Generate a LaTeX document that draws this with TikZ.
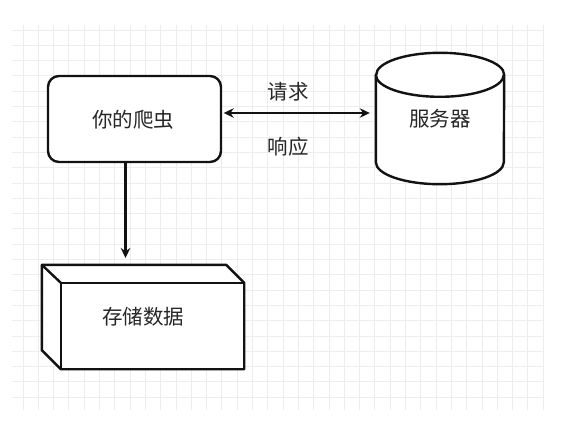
\documentclass[tikz,border=0pt]{standalone}
\usepackage{fontspec}
\newfontfamily\cjk{Noto Sans CJK SC}
\usetikzlibrary{arrows.meta,calc}
\definecolor{gridc}{HTML}{EDEDED}
\definecolor{inkc}{HTML}{121212}
\definecolor{txtc}{HTML}{262626}
\begin{document}
\begin{tikzpicture}[x=1pt,y=-1pt,
  >={Stealth[length=10pt,width=9.5pt]},
  shapeline/.style={draw=inkc,line width=2.4pt,line join=round},
  lbl/.style={text=txtc,font=\cjk\fontsize{20.5}{24}\selectfont,inner sep=0pt},
  conn/.style={draw=inkc,line width=2.1pt}]
\useasboundingbox (0,0) rectangle (577,427);
\fill[white] (0,0) rectangle (577,427);
% grid
\foreach \k in {0,...,34} \draw[gridc,line width=0.9pt] (23+15.3*\k,25) -- (23+15.3*\k,410);
\foreach \k in {0,...,24} \draw[gridc,line width=0.9pt] (12,30+15.3*\k) -- (543,30+15.3*\k);

% crawler
\node[shapeline,fill=white,rounded corners=11pt,minimum width=173pt,minimum height=86pt,inner sep=0pt] (crawler) at (134.5,119) {};
\node[lbl] (crawlertxt) at (133,120) {你的爬虫};

% server cylinder
\node[minimum width=128pt,minimum height=131pt,inner sep=0pt] (srv) at (440,118.5) {};
\draw[shapeline,fill=white] ($(srv.north west)+(0,22)$)
  -- ($(srv.south west)+(0,-22)$) arc[start angle=180,end angle=0,x radius=64,y radius=22]
  -- ($(srv.north east)+(0,22)$) arc[start angle=0,end angle=-180,x radius=64,y radius=22] -- cycle;
\draw[shapeline] ($(srv.north west)+(0,22)$) arc[start angle=180,end angle=0,x radius=64,y radius=22];
\node[lbl] (srvtxt) at (srv.center) {服务器};

% store (3D box)
\node[minimum width=202pt,minimum height=104pt,inner sep=0pt] (store) at (143,317) {};
\coordinate (fnw) at ($(store.north west)+(19,18)$);
\coordinate (fne) at (store.north east |- fnw);
\coordinate (fsw) at (fnw |- store.south);
\coordinate (bne) at ($(store.north east)+(-18,0)$);
\coordinate (bsw) at ($(store.south west)+(0,-19)$);
\draw[shapeline,fill=white] (store.north west) -- (bne) -- (fne) -- (store.south east) -- (fsw) -- (bsw) -- cycle;
\draw[shapeline] (fsw) -- (fnw) -- (fne);
\draw[shapeline] (store.north west) -- (fnw);
\node[lbl] (storetxt) at (store.center) {存储数据};

% connectors
\coordinate (storetop) at (0,258);
\draw[conn,<->] ([yshift=6pt,xshift=1.5pt]crawler.east) -- ([yshift=6pt,xshift=-6pt]srv.west |- crawler.east);
\draw[conn,->] ([xshift=-9pt]crawler.south) -- ([xshift=-9pt]crawler.south |- storetop);

\node[lbl] (req) at (288,92) {请求};
\node[lbl] (resp) at (288,147) {响应};
\end{tikzpicture}
\end{document}
